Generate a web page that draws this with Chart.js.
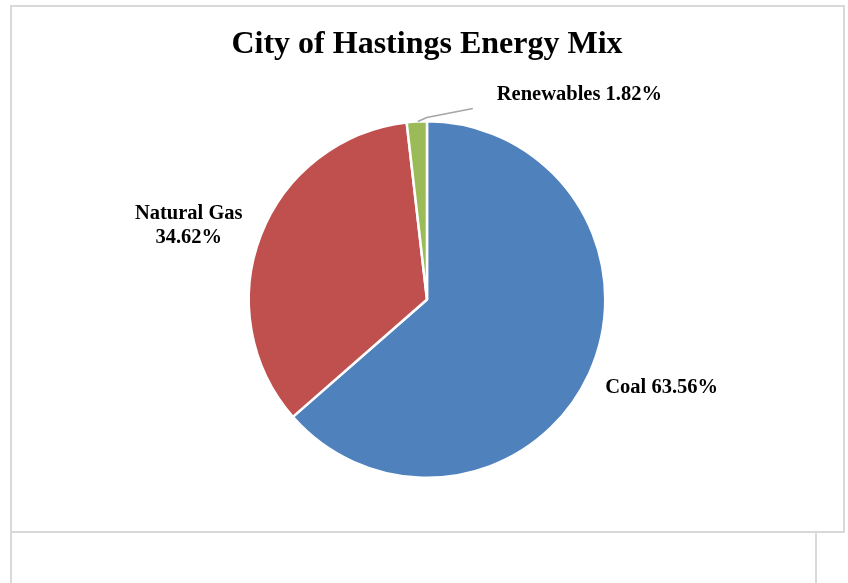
<!DOCTYPE html>
<html>
<head>
<meta charset="utf-8">
<script src="https://cdn.jsdelivr.net/npm/chart.js@4/dist/chart.umd.min.js"></script>
<style>
html,body{margin:0;padding:0;background:#fff;}
#wrap{position:relative;width:848px;height:583px;}
</style>
</head>
<body>
<div id="wrap"><canvas id="c" width="848" height="583"></canvas></div>
<script>
const categories = ["Coal", "Natural Gas", "Renewables"];
const shares = [63.56, 34.62, 1.82];
const colors = ["#4F81BD", "#C0504D", "#9BBB59"];
const titleText = "City of Hastings Energy Mix";

const SERIF = "'Liberation Serif','Times New Roman',serif";

const framePlugin = {
  id: 'frame',
  beforeDraw(chart) {
    const ctx = chart.ctx;
    ctx.save();
    ctx.fillStyle = '#fff';
    ctx.fillRect(0, 0, chart.width, chart.height);
    ctx.strokeStyle = '#d9d9d9';
    ctx.lineWidth = 2;
    ctx.strokeRect(11, 6, 833, 526);
    ctx.beginPath();
    ctx.moveTo(11, 532); ctx.lineTo(11, 583);
    ctx.moveTo(816, 532); ctx.lineTo(816, 583);
    ctx.stroke();
    ctx.restore();
  }
};

const labelPlugin = {
  id: 'sliceLabels',
  afterDatasetsDraw(chart) {
    const ctx = chart.ctx;
    const meta = chart.getDatasetMeta(0);
    ctx.save();
    ctx.fillStyle = '#000';
    ctx.font = "bold 20.5px " + SERIF;
    ctx.textBaseline = 'middle';
    meta.data.forEach((arc, i) => {
      const mid = (arc.startAngle + arc.endAngle) / 2;
      const r = arc.outerRadius;
      const ex = arc.x + Math.cos(mid) * r;
      const ey = arc.y + Math.sin(mid) * r;
      const pct = shares[i].toFixed(2) + '%';
      if (i === 0) {
        ctx.textAlign = 'left';
        ctx.fillText(categories[i] + ' ' + pct, ex + 16, ey + 15);
      } else if (i === 1) {
        ctx.textAlign = 'center';
        ctx.fillText(categories[i], ex - 72, ey - 22);
        ctx.fillText(pct, ex - 72, ey + 2);
      } else {
        ctx.strokeStyle = '#a6a6a6';
        ctx.lineWidth = 1.5;
        ctx.beginPath();
        ctx.moveTo(ex + 1, ey);
        ctx.lineTo(ex + 10, ey - 4);
        ctx.lineTo(ex + 56, ey - 13);
        ctx.stroke();
        ctx.textAlign = 'left';
        ctx.fillText(categories[i] + ' ' + pct, ex + 80, ey - 27);
      }
    });
    ctx.restore();
  }
};

new Chart(document.getElementById('c'), {
  type: 'pie',
  data: {
    labels: categories,
    datasets: [{
      data: shares,
      backgroundColor: colors,
      borderColor: '#ffffff',
      borderWidth: 2.5,
      hoverOffset: 0
    }]
  },
  options: {
    responsive: false,
    animation: false,
    events: [],
    layout: { padding: { top: 0, bottom: 104, left: 6, right: 0 } },
    plugins: {
      legend: { display: false },
      tooltip: { enabled: false },
      title: {
        display: true,
        text: titleText,
        color: '#000',
        font: { family: SERIF, size: 32, weight: 'bold', lineHeight: 1.2 },
        padding: { top: 26, bottom: 55.6 }
      }
    }
  },
  plugins: [framePlugin, labelPlugin]
});
</script>
</body>
</html>
